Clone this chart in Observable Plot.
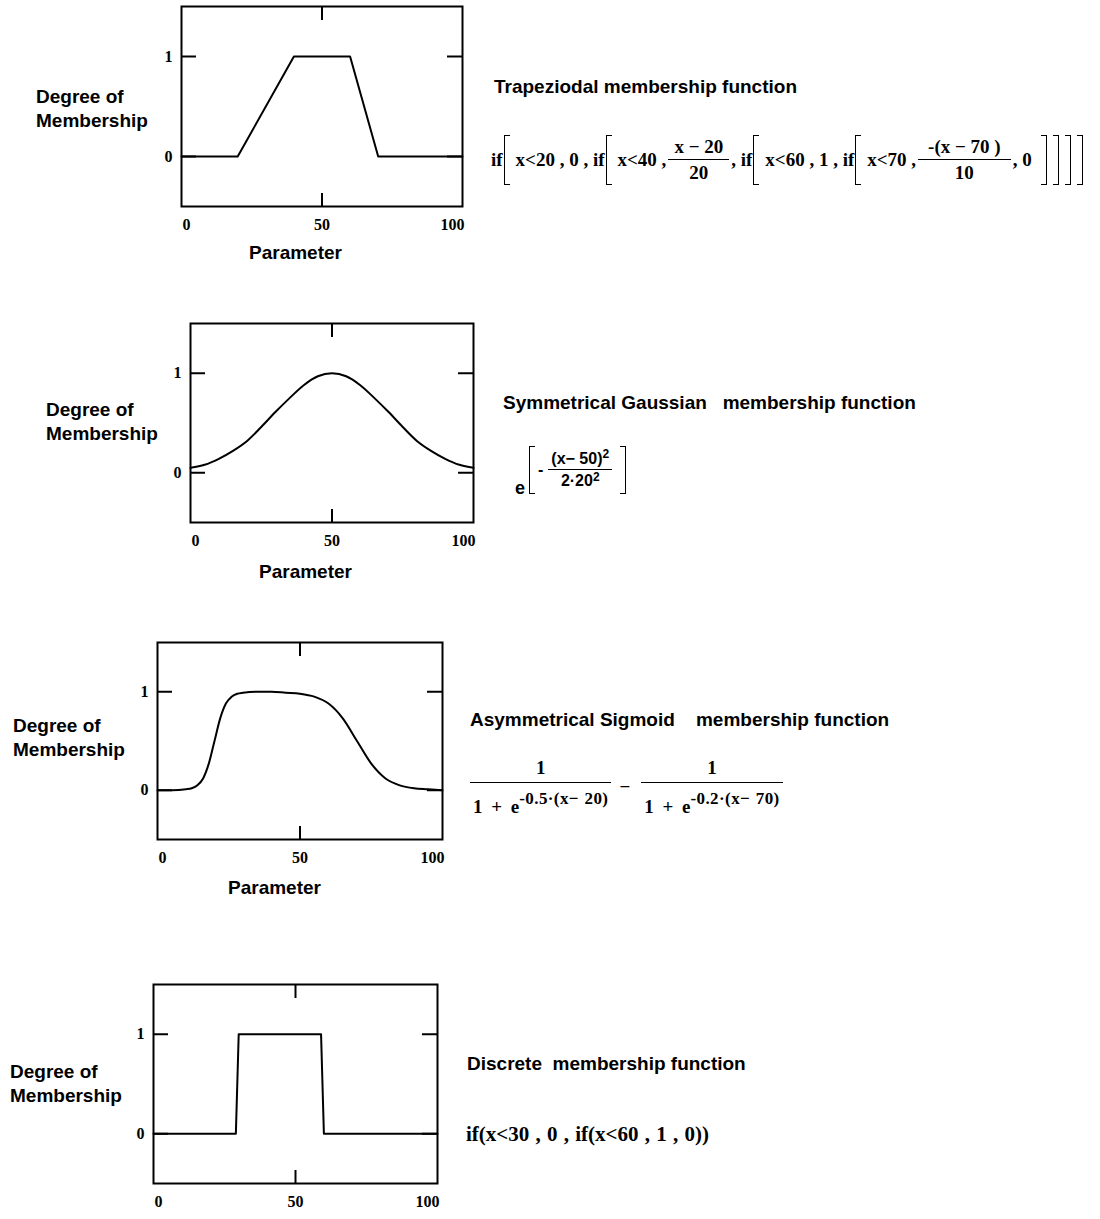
<!DOCTYPE html>
<html>
<head>
<meta charset="utf-8">
<script src="https://cdn.jsdelivr.net/npm/d3@7"></script>
<script src="https://cdn.jsdelivr.net/npm/@observablehq/plot@0.6"></script>
<style>
  body { margin: 0; background: #fff; }
  #page { position: relative; width: 1100px; height: 1219px; overflow: hidden; color: #000;
          font-family: "Liberation Sans", Arial, sans-serif; }
  .lbl { position: absolute; font-weight: bold; font-size: 19px; line-height: 24px; white-space: pre; }
  .fx { position: absolute; font-family: "Liberation Serif", "Times New Roman", serif; font-weight: bold;
        white-space: pre; display: flex; align-items: center; }
  .frac { display: inline-flex; flex-direction: column; align-items: stretch; margin: 0 2px; }
  .frac .num { border-bottom: 1.6px solid #000; line-height: 1.15; text-align: center; padding-bottom: 1px; }
  .frac .den { line-height: 1.15; padding-top: 2px; text-align: center; }
  .frac.tall .num { padding-bottom: 3px; }
  .frac.tall .den { padding: 13px 3px 0; }
  .bo, .bc { display: inline-block; width: 5px; border: 1.6px solid #000; }
  .bo { border-right: none; }
  .bc { border-left: none; }
  .sq { font-size: 0.75em; position: relative; top: -0.45em; }
  .ex { display: inline-block; position: relative; top: -0.55em; font-size: 17px; letter-spacing: 0.4px; word-spacing: 1px; }
</style>
</head>
<body>
<div id="page"></div>
<script>
// Shared axis ticks
const xTickLabels = [0, 50, 100];
const xTickMarks = [50];
const yTicks = [0, 1];

// Trapezoidal membership function
const trapX = [0, 20, 40, 60, 70, 100];
const trapY = [0, 0, 1, 1, 0, 0];

// Symmetrical Gaussian membership function
const gaussX = [0, 5, 10, 15, 20, 25, 30, 35, 40, 45, 50, 55, 60, 65, 70, 75, 80, 85, 90, 95, 100];
const gaussY = [0.05, 0.08, 0.14, 0.22, 0.32, 0.46, 0.61, 0.75, 0.88, 0.97, 1.0,
                0.97, 0.88, 0.75, 0.61, 0.46, 0.32, 0.22, 0.14, 0.08, 0.05];

// Asymmetrical sigmoid membership function
const sigX = [0, 5, 10, 12, 14, 16, 18, 20, 22, 24, 26, 28, 30, 35, 40, 45, 50, 55, 60, 65, 70, 75, 80, 85, 90, 95, 100];
const sigY = [0, 0, 0.01, 0.02, 0.05, 0.12, 0.27, 0.5, 0.73, 0.88, 0.95, 0.98, 0.99, 1.0, 1.0, 0.99,
              0.98, 0.95, 0.88, 0.73, 0.5, 0.27, 0.12, 0.05, 0.02, 0.01, 0];

// Discrete membership function
const discX = [0, 29, 30, 59, 60, 100];
const discY = [0, 0, 1, 1, 0, 0];

const page = document.getElementById("page");

function panel({xs, ys, curve, left, top, fw, fh}) {
  const mL = 34, mR = 8, mT = 4, mB = 34;
  const svg = Plot.plot({
    width: mL + fw + mR,
    height: mT + fh + mB,
    marginLeft: mL, marginRight: mR, marginTop: mT, marginBottom: mB,
    x: {domain: [0, 100]},
    y: {domain: [-0.5, 1.5]},
    style: {fontFamily: "'Liberation Serif', 'Times New Roman', serif", fontWeight: "bold",
            fontSize: "16px", color: "#000", background: "none", overflow: "visible"},
    marks: [
      Plot.frame({stroke: "#000", strokeWidth: 2}),
      // inward ticks on all four sides
      Plot.tickY(yTicks, {stroke: "#000", strokeWidth: 2, insetRight: fw - 15}),
      Plot.tickY(yTicks, {stroke: "#000", strokeWidth: 2, insetLeft: fw - 15}),
      Plot.tickX(xTickMarks, {stroke: "#000", strokeWidth: 2, insetBottom: fh - 14}),
      Plot.tickX(xTickMarks, {stroke: "#000", strokeWidth: 2, insetTop: fh - 13}),
      Plot.axisY(yTicks, {tickSize: 0, tickPadding: 9, tickFormat: "d", label: null}),
      Plot.axisX(xTickLabels.slice(0, 1), {tickSize: 0, tickPadding: 12, tickFormat: "d", textAnchor: "start", dx: 1, label: null}),
      Plot.axisX(xTickLabels.slice(1, 2), {tickSize: 0, tickPadding: 12, tickFormat: "d", label: null}),
      Plot.axisX(xTickLabels.slice(2), {tickSize: 0, tickPadding: 12, tickFormat: "d", textAnchor: "end", dx: 2, label: null}),
      Plot.line(xs, {x: xs, y: ys, curve, stroke: "#000", strokeWidth: 2})
    ]
  });
  svg.style.position = "absolute";
  svg.style.left = (left - mL) + "px";
  svg.style.top = (top - mT) + "px";
  page.appendChild(svg);
}

panel({xs: trapX, ys: trapY, curve: "linear", left: 181, top: 6, fw: 281, fh: 200});
panel({xs: gaussX, ys: gaussY, curve: "monotone-x", left: 190, top: 323, fw: 283, fh: 199});
panel({xs: sigX, ys: sigY, curve: "monotone-x", left: 157, top: 642, fw: 285, fh: 197});
panel({xs: discX, ys: discY, curve: "linear", left: 153, top: 984, fw: 284, fh: 199});

function text(cls, html, left, top, extra = "") {
  const d = document.createElement("div");
  d.className = cls;
  d.innerHTML = html;
  d.style.cssText += `left:${left}px;top:${top}px;${extra}`;
  page.appendChild(d);
  return d;
}

// y-axis captions
text("lbl", "Degree of\nMembership", 36, 85);
text("lbl", "Degree of\nMembership", 46, 398);
text("lbl", "Degree of\nMembership", 13, 714);
text("lbl", "Degree of\nMembership", 10, 1060);

// x-axis captions
text("lbl", "Parameter", 249, 241);
text("lbl", "Parameter", 259, 560);
text("lbl", "Parameter", 228, 876);

// function names
text("lbl", "Trapeziodal membership function", 494, 75);
text("lbl", "Symmetrical Gaussian   membership function", 503, 391);
text("lbl", "Asymmetrical Sigmoid    membership function", 470, 708);
text("lbl", "Discrete  membership function", 467, 1052);

// formulas
const bo = (h, m = "0 6px 0 1px") => `<span class="bo" style="height:${h}px;margin:${m}"></span>`;
const bc = (h, m = "0 0 0 6px") => `<span class="bc" style="height:${h}px;margin:${m}"></span>`;
const frac = (n, d, pad = "0 4px", cls = "") =>
  `<span class="frac ${cls}"><span class="num" style="padding-left:${pad};padding-right:${pad}">${n}</span><span class="den">${d}</span></span>`;

text("fx",
  `if${bo(48)}x&lt;20 , 0 , if${bo(48)}x&lt;40 ,${frac("x − 20", "20", "6px")}, if${bo(48)}x&lt;60 , 1 , if${bo(48)}x&lt;70 ,${frac("-(x − 70 )", "10", "10px")}, 0${bc(48, "0 0 0 9px")}${bc(48)}${bc(48)}${bc(48)}`,
  491, 135, "font-size:19px;height:50px;");

text("fx", "e", 515, 478, "font-family:'Liberation Sans',Arial,sans-serif;font-size:18px;");
text("fx",
  `${bo(46, "0 3px 0 0")}<span style="margin-right:3px">-</span>${frac("(x− 50)<span class='sq'>2</span>", "2·20<span class='sq'>2</span>", "3px")}${bc(46, "0 0 0 6px")}`,
  529, 446, "font-family:'Liberation Sans',Arial,sans-serif;font-size:16px;height:48px;");

text("fx",
  `${frac("1", "1 + e<span class='ex'>-0.5·(x− 20)</span>", "0px", "tall")}<span style="margin:0 9px 0 6px">−</span>${frac("1", "1 + e<span class='ex'>-0.2·(x− 70)</span>", "0px", "tall")}`,
  468, 757, "font-size:19px;word-spacing:4px;");

text("fx", "if(x&lt;30 , 0 , if(x&lt;60 , 1 , 0))", 466, 1120, "font-size:21px;height:28px;word-spacing:1px;");
</script>
</body>
</html>
